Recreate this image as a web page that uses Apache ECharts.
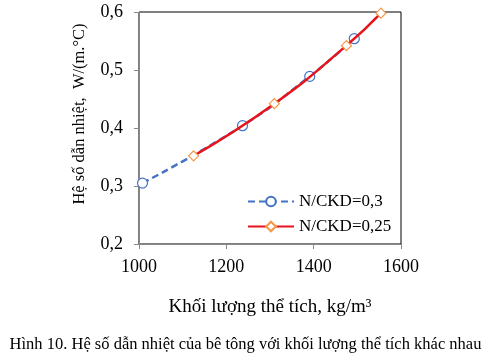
<!DOCTYPE html>
<html><head><meta charset="utf-8">
<script src="https://cdn.jsdelivr.net/npm/echarts@6/dist/echarts.min.js"></script>
<style>html,body{margin:0;padding:0;background:#fff}#c{width:491px;height:356px}</style>
</head><body><div id="c"></div>
<script>
const seriesA_x = [1008, 1237, 1391, 1493];
const seriesA_y = [0.305, 0.404, 0.489, 0.554];
const seriesB_x = [1125, 1310, 1475, 1554];
const seriesB_y = [0.352, 0.442, 0.542, 0.598];
const nameA = 'N/CKD=0,3';
const nameB = 'N/CKD=0,25';
const xTitle = 'Khối lượng thể tích, kg/m³';
const yTitle = 'Hệ số dẫn nhiệt,  W/(m.°C)';
const caption = 'Hình 10. Hệ số dẫn nhiệt của bê tông với khối lượng thể tích khác nhau';
const font = '"Liberation Serif", "DejaVu Serif", serif';

const chart = echarts.init(document.getElementById('c'));
chart.setOption({
  animation: false,
  grid: {left: 139, right: 90, top: 12, bottom: 112, show: true, borderColor: '#000', borderWidth: 1},
  legend: {
    left: 242, top: 188, orient: 'vertical', itemGap: 8, itemWidth: 46, itemHeight: 12,
    textStyle: {fontFamily: font, fontSize: 17, color: '#000'},
    data: [nameA, nameB]
  },
  xAxis: {
    type: 'value', min: 1000, max: 1600, interval: 200,
    name: xTitle, nameLocation: 'middle', nameGap: 54,
    nameTextStyle: {fontFamily: font, fontSize: 19, color: '#000'},
    axisLine: {lineStyle: {color: '#888'}},
    axisTick: {show: true, lineStyle: {color: '#888'}, length: 5},
    axisLabel: {fontFamily: font, fontSize: 18, color: '#000', margin: 14,
      formatter: v => String(v)},
    splitLine: {show: false}
  },
  yAxis: {
    type: 'value', min: 0.2, max: 0.6, interval: 0.1,
    axisLine: {show: true, lineStyle: {color: '#888'}},
    axisTick: {show: true, lineStyle: {color: '#888'}, length: 5},
    axisLabel: {fontFamily: font, fontSize: 18, color: '#000', margin: 16,
      formatter: v => v.toFixed(1).replace('.', ',')},
    splitLine: {show: false}
  },
  series: [
    {
      name: nameA, type: 'line', smooth: true,
      data: seriesA_x.map((x, i) => [x, seriesA_y[i]]),
      symbol: 'circle', symbolSize: 10,
      lineStyle: {color: '#4472C4', width: 2.5, type: [7, 4]},
      itemStyle: {color: '#fff', borderColor: '#4472C4', borderWidth: 1.2},
      z: 2
    },
    {
      name: nameB, type: 'line', smooth: true,
      data: seriesB_x.map((x, i) => [x, seriesB_y[i]]),
      symbol: 'diamond', symbolSize: 10,
      lineStyle: {color: '#E8141C', width: 2.5},
      itemStyle: {color: '#fff', borderColor: '#F79646', borderWidth: 1.2},
      z: 3
    }
  ],
  graphic: [
    {
      type: 'text', x: 80, y: 114, rotation: Math.PI / 2,
      style: {text: yTitle, fontFamily: font, fontSize: 16.5, fill: '#000', align: 'center', verticalAlign: 'middle'}
    },
    {
      type: 'text', left: 'center', top: 336,
      style: {text: caption, fontFamily: font, fontSize: 16.5, fill: '#000'}
    }
  ]
});
</script></body></html>
